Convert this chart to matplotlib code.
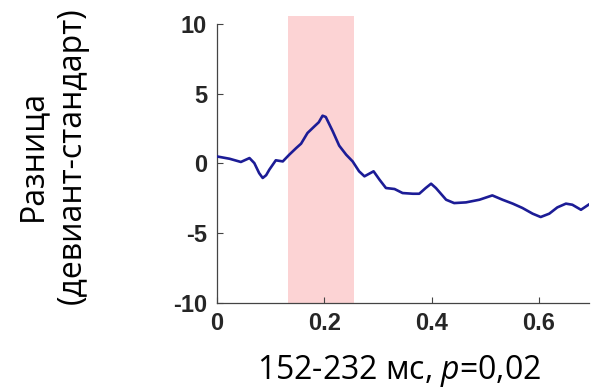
import matplotlib
matplotlib.use("Agg")
import matplotlib.pyplot as plt

# Данные кривой (время, с; разница, мкВ)
t = [0.0, 0.024, 0.045, 0.061, 0.070, 0.079, 0.0856, 0.092, 0.098, 0.110,
     0.123, 0.135, 0.148, 0.157, 0.169, 0.182, 0.190, 0.197, 0.203, 0.216,
     0.228, 0.241, 0.253, 0.265, 0.275, 0.284, 0.292, 0.303, 0.315, 0.331,
     0.346, 0.365, 0.377, 0.389, 0.399, 0.408, 0.427, 0.442, 0.464, 0.489,
     0.513, 0.532, 0.551, 0.569, 0.588, 0.603, 0.619, 0.634, 0.650, 0.662,
     0.678, 0.692]
diff = [0.50, 0.33, 0.10, 0.38, 0.02, -0.70, -1.05, -0.85, -0.45, 0.22,
        0.14, 0.62, 1.10, 1.41, 2.18, 2.66, 2.95, 3.42, 3.33, 2.30,
        1.27, 0.62, 0.14, -0.57, -0.93, -0.74, -0.57, -1.17, -1.77, -1.84,
        -2.13, -2.18, -2.18, -1.77, -1.46, -1.77, -2.61, -2.85, -2.80, -2.61,
        -2.30, -2.61, -2.89, -3.20, -3.61, -3.85, -3.61, -3.16, -2.89, -2.97,
        -3.33, -2.97]

win_start, win_end = 0.133, 0.255
xticks = [0, 0.2, 0.4, 0.6]
yticks = [-10, -5, 0, 5, 10]

plt.rcParams['font.family'] = ['Open Sans', 'DejaVu Sans']
plt.rcParams['mathtext.fontset'] = 'custom'
plt.rcParams['mathtext.it'] = 'Open Sans:italic'
plt.rcParams['mathtext.rm'] = 'Open Sans'
plt.rcParams['axes.unicode_minus'] = False

fig = plt.figure(figsize=(5.96, 3.89), dpi=100)
ax = fig.add_axes([0.3636, 0.2218, 0.6247, 0.7165])

# окно значимости
ax.axvspan(win_start, win_end, ymin=0, ymax=1.028, color='#fcd3d4', lw=0,
           clip_on=False, zorder=1)
ax.plot(t, diff, color='#1c1c96', lw=1.9, zorder=3, solid_joinstyle='round')

ax.set_xlim(0, 0.693)
ax.set_ylim(-10, 10)
ax.set_xticks(xticks)
ax.set_xticklabels(['0', '0.2', '0.4', '0.6'])
ax.set_yticks(yticks)
for lab in ax.get_xticklabels() + ax.get_yticklabels():
    lab.set_fontfamily('Liberation Sans')
    lab.set_fontweight('bold')
    lab.set_fontsize(17)
    lab.set_color('#262626')
ax.tick_params(direction='in', length=4, width=0.8, color='#444444', pad=7)

for s in ['top', 'right']:
    ax.spines[s].set_visible(False)
for s in ['left', 'bottom']:
    ax.spines[s].set_color('#444444')
    ax.spines[s].set_linewidth(0.9)

fig.text(0.088, 0.60, 'Разница\n(девиант-стандарт)', rotation=90,
         ha='center', va='center', fontsize=23, linespacing=1.3)
fig.text(0.67, 0.045, '152-232 мс, $p$=0,02', ha='center', va='center',
         fontsize=23)

fig.savefig('out.png', dpi=100)
